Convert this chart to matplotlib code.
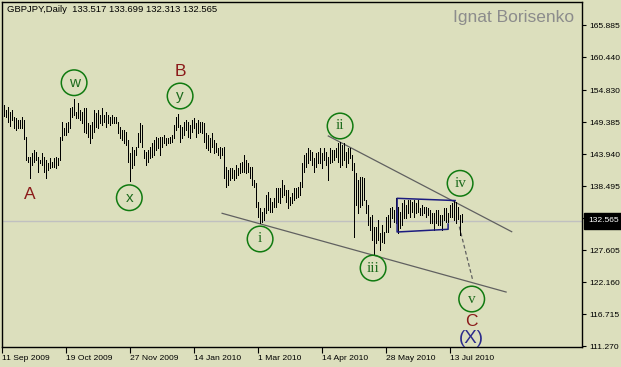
import matplotlib
matplotlib.use("Agg")
import matplotlib.pyplot as plt
from matplotlib import font_manager
from matplotlib.transforms import blended_transform_factory

plt.rcParams['font.family'] = ['Liberation Sans', 'DejaVu Sans']

names = {f.name for f in font_manager.fontManager.ttflist}
tick_font = 'Liberation Sans Narrow' if 'Liberation Sans Narrow' in names else 'Liberation Sans'
tick_size = 7.4 if tick_font == 'Liberation Sans Narrow' else 6.1

# daily highs / lows (one value per bar)
highs = [
    152.85, 152.28, 151.43, 151.99, 151.14, 151.43, 150.29, 150.01, 149.73, 149.73,
    150.29, 149.73, 146.89, 143.49, 143.49, 144.06, 144.62, 144.34, 143.49, 142.92,
    144.06, 143.49, 142.92, 142.36, 143.21, 142.64, 143.21, 143.49, 143.21, 146.89,
    149.44, 148.31, 149.16, 149.44, 151.71, 151.99, 153.24, 151.14, 152.56, 151.43,
    151.14, 151.71, 151.71, 149.16, 148.88, 149.44, 151.43, 150.86, 151.43, 150.58,
    151.71, 150.58, 151.14, 150.58, 150.29, 150.58, 150.29, 150.29, 149.44,
    148.59, 148.03, 148.03, 147.74, 146.33, 144.06, 145.19, 144.63, 145.19, 147.46,
    149.16, 148.88, 144.63, 144.34, 144.63, 145.19, 145.76, 146.33, 146.89, 146.61,
    146.89, 146.89, 147.18, 146.61, 146.61, 146.89, 147.18, 148.88, 150.29, 150.75,
    148.88, 148.59, 149.44, 149.73, 149.44, 148.88, 149.73, 150.01, 149.16, 149.73,
    149.44, 149.44, 149.16, 147.46, 147.18, 146.61, 147.46, 146.33, 145.76, 144.91,
    145.19, 144.91, 145.19, 141.79, 141.22, 141.51, 141.51, 141.22,
    142.08, 141.51, 142.36, 142.64, 143.78, 142.93, 142.36, 141.79, 141.79, 139.53,
    138.96, 135.84, 134.71, 134.14, 134.71, 136.97, 137.54, 136.41, 135.84, 136.41,
    138.11, 138.11, 138.11, 139.53, 138.67, 137.82, 137.82, 136.69, 137.26, 138.11,
    138.11, 138.39, 139.24, 142.36, 143.78, 144.06, 144.91, 144.63, 144.34, 143.21,
    144.06, 144.34, 144.91, 144.06, 144.91, 144.34, 143.49, 144.91, 144.63, 144.63,
    144.91, 145.76, 146.05, 145.48, 145.76, 144.34, 144.91, 144.91,
    143.78, 142.36, 140.66, 139.53, 140.09, 140.09, 139.81, 136.12, 135.27, 133.29,
    133.57, 131.59, 131.59, 132.72, 130.45, 131.87, 130.74, 133.29, 133.57, 134.71,
    134.99, 134.42, 136.41, 134.99, 134.14, 135.56, 136.12, 135.27, 136.12, 136.12,
    135.84, 136.12, 135.56, 136.12, 134.71, 135.27, 134.99, 134.99, 134.71, 134.42,
    133.86, 133.86, 134.42, 134.42, 133.57, 133.57, 134.71, 134.71, 133.86, 135.27,
    135.56, 136.12, 135.84, 134.99, 133.57, 133.70,
]
lows = [
    150.58, 150.41, 150.30, 149.44, 148.71, 149.73, 148.31, 148.03, 148.31, 148.31,
    148.31, 146.44, 142.92, 142.64, 139.80, 142.07, 142.64, 142.92, 140.94, 142.47,
    142.07, 140.94, 139.80, 141.22, 141.51, 141.79, 141.79, 141.51, 142.07, 142.92,
    146.33, 147.18, 147.18, 147.74, 148.31, 150.29, 150.58, 150.01, 150.01, 149.73,
    149.16, 147.74, 147.46, 146.89, 145.87, 146.61, 147.74, 148.59, 148.31, 149.16,
    148.88, 149.44, 148.59, 149.16, 148.88, 149.16, 149.16, 149.16, 147.46,
    146.61, 146.33, 145.76, 145.48, 142.64, 139.41, 141.51, 142.07, 143.77, 145.19,
    146.04, 145.19, 143.21, 142.07, 142.64, 143.21, 143.49, 143.77, 144.63, 144.91,
    143.77, 145.19, 145.76, 145.48, 145.76, 145.76, 146.04, 146.61, 148.03, 148.59,
    146.04, 146.61, 147.18, 148.03, 146.89, 146.61, 147.74, 148.31, 146.89, 147.46,
    147.74, 147.46, 146.04, 144.91, 144.63, 144.34, 145.19, 144.06, 144.34, 143.77,
    143.21, 143.77, 139.80, 138.27, 138.67, 139.52, 139.80, 139.52,
    139.81, 140.38, 140.66, 140.94, 140.94, 140.66, 140.94, 139.81, 138.67, 138.39,
    134.99, 133.29, 132.15, 132.44, 132.72, 133.86, 134.42, 134.14, 134.14, 134.99,
    134.99, 135.84, 135.56, 136.69, 136.97, 135.84, 134.71, 135.27, 135.56, 136.12,
    136.41, 136.69, 136.97, 138.39, 140.94, 141.79, 142.36, 142.93, 142.08, 140.94,
    141.79, 142.36, 142.36, 141.51, 142.93, 142.08, 139.53, 142.36, 142.64, 142.93,
    143.49, 142.64, 141.79, 142.08, 142.93, 141.79, 142.36, 143.21,
    141.23, 129.89, 135.27, 133.86, 134.99, 135.27, 136.12, 133.86, 131.87, 131.02,
    129.32, 126.77, 128.75, 129.32, 127.62, 129.04, 128.75, 130.74, 130.74, 131.59,
    133.01, 132.44, 132.16, 130.45, 131.31, 131.87, 133.01, 133.01, 133.86, 133.29,
    134.14, 133.29, 133.86, 134.14, 133.57, 133.57, 133.86, 133.29, 133.57, 132.16,
    132.16, 131.02, 132.16, 131.87, 131.87, 131.02, 132.72, 132.44, 132.44, 133.29,
    133.29, 132.72, 132.16, 132.86, 130.17, 132.31,
]

date_ticks = [0, 32, 64, 96, 128, 160, 192, 224]
date_labels = ['11 Sep 2009', '19 Oct 2009', '27 Nov 2009', '14 Jan 2010',
               '1 Mar 2010', '14 Apr 2010', '28 May 2010', '13 Jul 2010']
price_ticks = [165.885, 160.440, 154.830, 149.385, 143.940, 138.495,
               133.050, 127.605, 122.160, 116.715, 111.270]
last_price = 132.565
header = 'GBPJPY,Daily  133.517 133.699 132.313 132.565'

# wave marks: label, bar index, price
circled = [('w', 35.9, 156.07), ('x', 63.5, 136.51), ('y', 88.9, 153.81),
           ('i', 128.9, 129.49), ('ii', 168.9, 148.71), ('iii', 185.4, 124.55),
           ('iv', 228.9, 138.96), ('v', 234.7, 119.28)]
letters = [('A', 13.5, 137.14), ('B', 88.9, 158.06), ('C', 234.7, 115.42)]
big_x = ('(X)', 234.7, 112.59)

# trend lines (bar index pairs, price pairs)
lower_line = ([109.9, 251.9], [133.86, 120.47])
upper_line = ([163.0, 254.7], [147.01, 130.73])
dash_line = ([228.5, 235.2], [131.58, 122.51])
box_x = [222.9, 222.9, 197.4, 197.4, 226.4]
box_y = [132.04, 131.14, 130.68, 136.41, 136.03]

bg = '#dcdfbd'
fig = plt.figure(figsize=(6.21, 3.67), dpi=100, facecolor=bg)
ax = fig.add_axes([2 / 621, 20 / 367, 580 / 621, 345 / 367], facecolor=bg)

ax.axhline(last_price, color='#c0c0c0', lw=1, zorder=1)
xs = list(range(len(highs)))
ax.vlines(xs, lows, highs, colors='black', linewidth=0.72, antialiased=False, zorder=3)

ax.plot(*lower_line, color='#606060', lw=0.9, zorder=2)
ax.plot(*upper_line, color='#606060', lw=0.9, zorder=2)
ax.plot(*dash_line, color='#606060', lw=0.9, ls=(0, (3, 2)), zorder=2)
ax.plot(box_x, box_y, color='#1c1c80', lw=1.1, zorder=4)

for t, bx, py in circled:
    ax.scatter([bx], [py], s=340, facecolors='none', edgecolors='#107a10',
               linewidths=1.1, zorder=5)
    fam = ['Liberation Sans'] if t in ('w', 'x', 'y') else ['Liberation Serif']
    ax.text(bx, py, t, ha='center', va='center', color='#1d6b1d', fontsize=11,
            family=fam, zorder=6)
for t, bx, py in letters:
    ax.text(bx, py, t, ha='center', va='center', color='#8b1a1a', fontsize=12.5, zorder=6)
ax.text(big_x[1], big_x[2], big_x[0], ha='center', va='center', color='#2b2b8b',
        fontsize=13.5, zorder=6)

ax.set_xlim(-0.15, 289.85)
ax.set_ylim(111.12, 169.80)

ax.yaxis.tick_right()
ax.set_yticks(price_ticks)
ax.set_yticklabels([f'{v:.3f}' for v in price_ticks], family=tick_font)
ax.tick_params(axis='y', length=3, pad=2, labelsize=tick_size, colors='black')
ax.set_xticks(date_ticks)
ax.set_xticklabels(date_labels, ha='left', family=tick_font)
ax.tick_params(axis='x', length=4, pad=2, labelsize=tick_size, colors='black')
for s in ax.spines.values():
    s.set_color('black')
    s.set_linewidth(1)

tr = blended_transform_factory(ax.transAxes, ax.transData)
ax.text(1.0103, last_price, '132.565', transform=tr, ha='left', va='center',
        color='white', fontsize=tick_size, family=tick_font, zorder=10, clip_on=False,
        bbox=dict(boxstyle='square,pad=0.5', fc='black', ec='black'))

ax.text(0.008, 0.979, header, transform=ax.transAxes, ha='left', va='center',
        fontsize=6.8, color='black')
ax.text(0.986, 0.954, 'Ignat Borisenko', transform=ax.transAxes, ha='right',
        va='center', fontsize=12.5, color='#8c8c8c')

fig.savefig('out.png', dpi=100, facecolor=bg)
